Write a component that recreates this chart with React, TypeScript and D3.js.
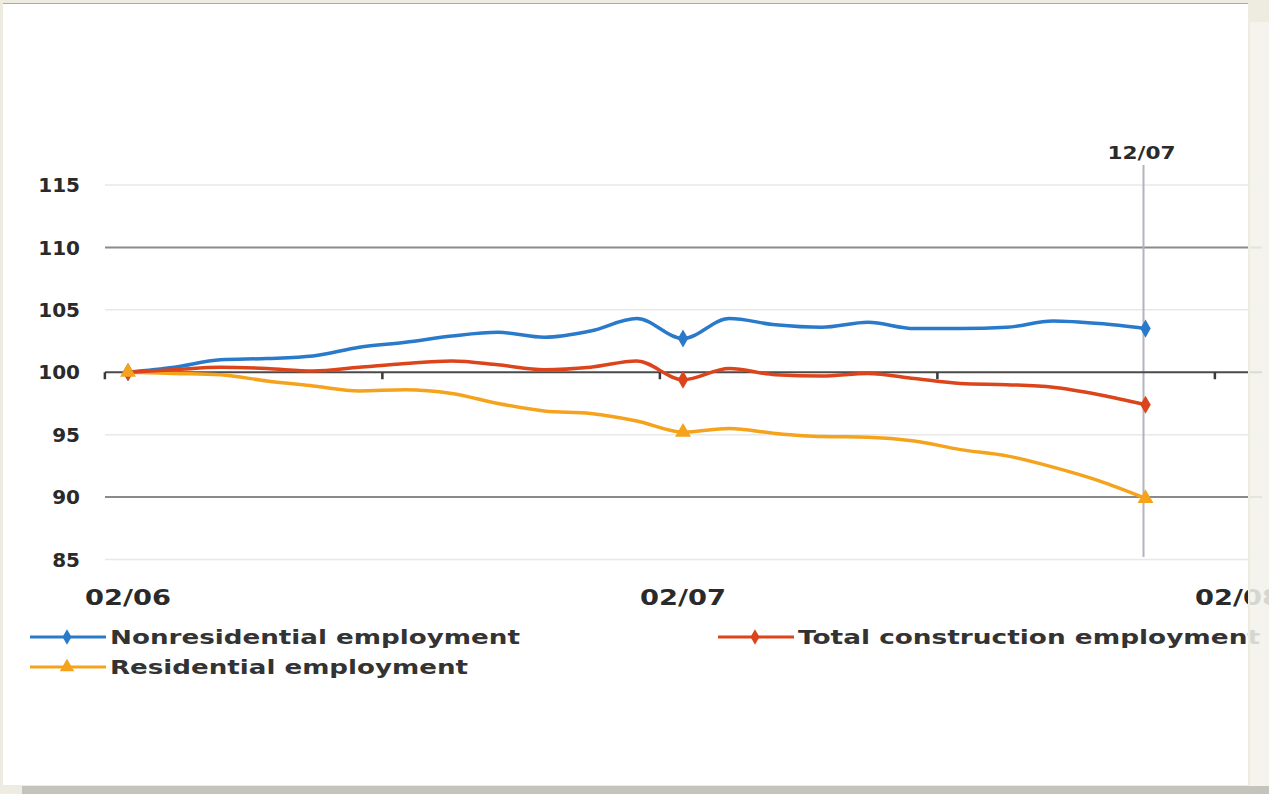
import React from "react";
import * as d3 from "d3";

const months = [
  "02/06", "03/06", "04/06", "05/06", "06/06", "07/06", "08/06", "09/06", "10/06", "11/06", "12/06", "01/07",
  "02/07", "03/07", "04/07", "05/07", "06/07", "07/07", "08/07", "09/07", "10/07", "11/07", "12/07",
];
const nonresidential = [
  100.0, 100.4, 101.0, 101.1, 101.3, 102.0, 102.4, 102.9, 103.2, 102.8, 103.3, 104.3,
  102.7, 104.3, 103.8, 103.6, 104.0, 103.5, 103.5, 103.6, 104.1, 103.9, 103.5,
];
const totalConstruction = [
  100.0, 100.2, 100.4, 100.3, 100.1, 100.4, 100.7, 100.9, 100.6, 100.2, 100.4, 100.9,
  99.4, 100.3, 99.8, 99.7, 99.9, 99.5, 99.1, 99.0, 98.8, 98.2, 97.4,
];
const residential = [
  100.0, 99.9, 99.8, 99.3, 98.9, 98.5, 98.6, 98.3, 97.5, 96.9, 96.7, 96.1,
  95.2, 95.5, 95.1, 94.85, 94.8, 94.5, 93.8, 93.3, 92.4, 91.3, 89.9,
];
const yTicks = [85, 90, 95, 100, 105, 110, 115];
const xLabels = [
  { index: 0, label: "02/06" },
  { index: 12, label: "02/07" },
  { index: 24, label: "02/08" },
];
const xTickBoundaries = [-0.5, 5.5, 11.5, 17.5, 23.5];
const markerIdx = [0, 12, 22];
const markedLabel = { index: 22, label: "12/07" };

const series = [
  { name: "Nonresidential employment", values: nonresidential, color: "#2a7acb", symbol: d3.symbolDiamond },
  { name: "Total construction employment", values: totalConstruction, color: "#dc441c", symbol: d3.symbolDiamond },
  { name: "Residential employment", values: residential, color: "#f5a31c", symbol: d3.symbolTriangle },
];

export default function App() {
  const W = 1269;
  const H = 794;
  const x = d3.scaleLinear().domain([0, 24]).range([128, 1238]);
  const y = d3.scaleLinear().domain([85, 115]).range([559.5, 185]);
  const line = d3
    .line<number>()
    .x((_, i) => x(i))
    .y((d) => y(d))
    .curve(d3.curveMonotoneX);
  const font = "'DejaVu Sans', Verdana, sans-serif";
  const plotL = 105;
  const plotR = 1262;

  const lineOrder = [2, 0, 1];
  const markerOrder = [0, 1, 2];

  return (
    <div style={{ position: "fixed", left: 0, top: 0 }}>
      <svg width={W} height={H} style={{ display: "block" }}>
        <rect x={0} y={0} width={W} height={H} fill="#eeebe0" />
        <rect x={3} y={3} width={1245} height={782} fill="#ffffff" />
        <line x1={3} x2={1248} y1={3.5} y2={3.5} stroke="#a9aaa8" strokeWidth={1} />

        {/* gridlines */}
        {yTicks.map((t) => {
          if (t === 100) return null;
          const dark = t === 110 || t === 90;
          return (
            <line
              key={t}
              x1={plotL}
              x2={plotR}
              y1={y(t)}
              y2={y(t)}
              stroke={dark ? "#8a8a8a" : "#e8e8e8"}
              strokeWidth={dark ? 2 : 1.5}
            />
          );
        })}
        {yTicks.map((t) => (
          <text
            key={"l" + t}
            x={80}
            y={y(t)}
            dy="0.36em"
            textAnchor="end"
            fontFamily={font}
            fontWeight="bold"
            fontSize={20}
            fill="#2a2a2a"
          >
            {t}
          </text>
        ))}

        {/* 12/07 vertical marker */}
        <line
          x1={x(markedLabel.index) - 2}
          x2={x(markedLabel.index) - 2}
          y1={165}
          y2={557}
          stroke="#b4b4bc"
          strokeWidth={2}
        />
        <text
          x={x(markedLabel.index) - 4}
          y={159}
          textAnchor="middle"
          fontFamily={font}
          fontWeight="bold"
          fontSize={17}
          fill="#2a2a2a"
          textLength={68}
          lengthAdjust="spacingAndGlyphs"
        >
          {markedLabel.label}
        </text>

        {/* x axis at 100 */}
        <line x1={plotL} x2={plotR} y1={y(100)} y2={y(100)} stroke="#4a4a4a" strokeWidth={2} />
        {xTickBoundaries.map((b) => (
          <line
            key={"t" + b}
            x1={x(b)}
            x2={x(b)}
            y1={y(100)}
            y2={y(100) + 7}
            stroke="#3a3a3a"
            strokeWidth={2.5}
          />
        ))}
        {xLabels.map((d) => (
          <text
            key={d.label}
            x={x(d.index)}
            y={605}
            textAnchor="middle"
            fontFamily={font}
            fontWeight="bold"
            fontSize={22}
            fill="#2a2a2a"
            textLength={86}
            lengthAdjust="spacingAndGlyphs"
          >
            {d.label}
          </text>
        ))}

        {/* series lines */}
        {lineOrder.map((si) => {
          const s = series[si];
          return (
            <path
              key={s.name}
              d={line(s.values) || ""}
              fill="none"
              stroke={s.color}
              strokeWidth={3.5}
              strokeLinejoin="round"
            />
          );
        })}
        {markerOrder.map((si) => {
          const s = series[si];
          return (
            <g key={"m" + s.name}>
              {markerIdx.map((i) => (
                <path
                  key={i}
                  d={d3.symbol().type(s.symbol).size(s.symbol === d3.symbolTriangle ? 110 : 95)() || ""}
                  transform={`translate(${x(i)},${y(s.values[i])})`}
                  fill={s.color}
                />
              ))}
            </g>
          );
        })}

        {/* legend */}
        {[
          { s: series[0], lx: 30, ly: 637, tw: 410 },
          { s: series[1], lx: 718, ly: 637, tw: 462 },
          { s: series[2], lx: 30, ly: 667, tw: 358 },
        ].map(({ s, lx, ly, tw }) => (
          <g key={"lg" + s.name}>
            <line x1={lx} x2={lx + 76} y1={ly} y2={ly} stroke={s.color} strokeWidth={3} />
            <path
              d={d3.symbol().type(s.symbol).size(s.symbol === d3.symbolTriangle ? 90 : 70)() || ""}
              transform={`translate(${lx + 37},${ly})`}
              fill={s.color}
            />
            <text
              x={lx + 80}
              y={ly}
              dy="0.36em"
              fontFamily={font}
              fontWeight="bold"
              fontSize={20}
              fill="#333333"
              textLength={tw}
              lengthAdjust="spacingAndGlyphs"
            >
              {s.name}
            </text>
          </g>
        ))}

        {/* frame overlays */}
        <rect x={1248} y={0} width={21} height={22} fill="#eeebe0" />
        <rect x={1248} y={22} width={2} height={764} fill="#eeebe0" />
        <rect x={1250} y={22} width={19} height={764} fill="#f5f4ef" opacity={0.85} />
        <rect x={22} y={786} width={1247} height={8} fill="#c5c4bc" />
      </svg>
    </div>
  );
}
